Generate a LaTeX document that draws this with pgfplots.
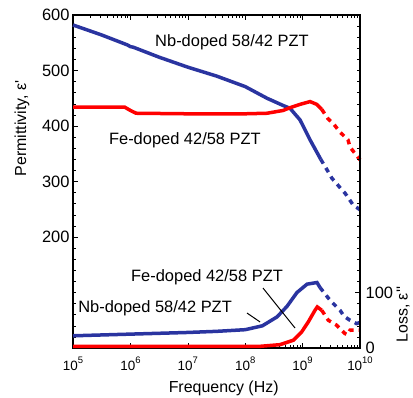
\documentclass[border=0pt]{standalone}
\usepackage{fontspec}
\setmainfont{Liberation Sans}
\newfontfamily\plainfont{Liberation Sans}
\usepackage{pgfplots}
\pgfplotsset{compat=1.18}
\definecolor{nbblue}{RGB}{42,52,160}
\definecolor{fered}{RGB}{255,0,0}
\newcommand\tp[1]{10\raisebox{7bp}{\fontsize{9.5}{10}\selectfont #1}}
\begin{document}
\begin{tikzpicture}[font=\fontsize{16.5}{19}\selectfont]
\useasboundingbox (-73bp,-50bp) rectangle (340bp,348bp);
\begin{axis}[at={(0,0)}, anchor=south west, scale only axis, width=287bp, height=333bp,
 xmode=log, xmin=1e5, xmax=1e10, ymin=0, ymax=600,
 xtick={1e5,1e6,1e7,1e8,1e9,1e10},
 xticklabels={\tp{5},\tp{6},\tp{7},\tp{8},\tp{9},\tp{10}},
 minor xtick={2e5,3e5,4e5,5e5,6e5,7e5,8e5,9e5,2e6,3e6,4e6,5e6,6e6,7e6,8e6,9e6,2e7,3e7,4e7,5e7,6e7,7e7,8e7,9e7,2e8,3e8,4e8,5e8,6e8,7e8,8e8,9e8,2e9,3e9,4e9,5e9,6e9,7e9,8e9,9e9},
 ytick={200,300,400,500,600}, minor ytick={20,40,...,580}, ytick pos=left,
 xtick pos=both, xticklabel pos=bottom,
 tick align=inside, major tick length=5bp, minor tick length=3bp,
 tick style={black, line width=0.6bp},
 axis line style={line width=1.2bp},
 ticklabel style={font=\fontsize{16.5}{19}\selectfont},
 xticklabel style={font=\fontsize{13.5}{15}\selectfont, inner sep=1bp, yshift=-8bp},
 /pgf/number format/assume math mode=true,
 xlabel={Frequency (Hz)},
 xlabel style={at={(axis description cs:0.525,-0.12)}, anchor=center},
 ylabel={\plainfont Permittivity, ε'},
 ylabel style={at={(axis description cs:-0.178,0.66)}, anchor=center},
 label style={font=\fontsize{16}{19}\selectfont},
 clip=false]
% Nb-doped 58/42 permittivity
\addplot[nbblue, line width=3.5bp] coordinates {
 (1e5,582) (3.162e5,564) (8.913e5,546) (1e6,543) (1.122e6,542) (3.162e6,524)
 (1e7,506) (3.162e7,490) (6.166e7,479) (1e8,471) (2.399e8,450) (4.571e8,437)
 (6.026e8,432) (9.016e8,411) (1.349e9,375) (2.070e9,340)};
\addplot[nbblue, line width=3.5bp, dash pattern=on 5bp off 5bp] coordinates {
 (2.070e9,340) (2.630e9,322) (3.236e9,306) (4.487e9,289) (5.483e9,279)
 (6.699e9,266) (7.551e9,258) (1e10,249)};
% Fe-doped 42/58 permittivity
\addplot[fered, line width=3.5bp] coordinates {
 (1e5,434) (7.943e5,434) (1e6,428) (1.259e6,423) (1e7,422) (1e8,422)
 (2.399e8,423) (4.571e8,428) (6.026e8,433) (9.016e8,439) (1.349e9,444)
 (1.762e9,439) (2.153e9,430)};
\addplot[fered, line width=3.5bp, dash pattern=on 5bp off 5bp] coordinates {
 (2.153e9,430) (2.773e9,413) (3.388e9,405) (4.487e9,389) (6.180e9,375)
 (6.699e9,362) (1e10,339)};
% Nb-doped loss
\addplot[nbblue, line width=3.5bp] coordinates {
 (1e5,22) (1e6,25) (1e7,28) (3.162e7,30) (1e8,33) (1.995e8,40) (3.581e8,56)
 (5.346e8,75) (7.980e8,100) (1.194e9,115) (1.782e9,118) (2.009e9,109)};
\addplot[nbblue, line width=3.5bp, dash pattern=on 5bp off 5bp] coordinates {
 (2.009e9,109) (2.805e9,90) (3.214e9,83) (4.487e9,68) (5.129e9,59)
 (5.483e9,56) (6.699e9,50) (8.710e9,44) (1e10,46)};
% Fe-doped loss
\addplot[fered, line width=3.5bp] coordinates {
 (1e5,3) (1e7,3) (1e8,3) (1.811e8,3) (4.036e8,6) (6.887e8,14) (9.638e8,29)
 (1.256e9,47) (1.644e9,68) (1.803e9,74) (2.153e9,68)};
\addplot[fered, line width=3.5bp, dash pattern=on 5bp off 5bp] coordinates {
 (2.153e9,68) (2.805e9,50) (3.926e9,41) (5.483e9,26) (6.026e9,24)
 (6.699e9,32) (1e10,32)};
\draw[black, line width=1bp] (axis cs:1.074e8,63) -- (axis cs:1.811e8,47);
\draw[black, line width=1bp] (axis cs:2.042e8,108) -- (axis cs:7.38e8,36);
\node at (rel axis cs:0.554,0.919) {Nb-doped 58/42 PZT};
\node at (rel axis cs:0.390,0.625) {Fe-doped 42/58 PZT};
\node at (rel axis cs:0.467,0.213) {Fe-doped 42/58 PZT};
\node at (rel axis cs:0.286,0.120) {Nb-doped 58/42 PZT};
\end{axis}
\begin{axis}[at={(0,0)}, anchor=south west, scale only axis, width=287bp, height=333bp,
 xmode=log, xmin=1e5, xmax=1e10, ymin=0, ymax=600,
 hide x axis, axis y line*=right,
 ytick={0,100}, minor ytick={20,40,...,580},
 tick align=inside, major tick length=5bp, minor tick length=3bp,
 tick style={black, line width=0.6bp},
 axis line style={line width=1.2bp},
 ticklabel style={font=\fontsize{16.5}{19}\selectfont},
 yticklabel style={inner sep=1bp, xshift=4.5bp},
 /pgf/number format/assume math mode=true,
 clip=false]
\node[rotate=90] at (axis description cs:1.15,0.10) {\plainfont\fontsize{16}{19}\selectfont Loss, ε''};
\end{axis}
\end{tikzpicture}
\end{document}
